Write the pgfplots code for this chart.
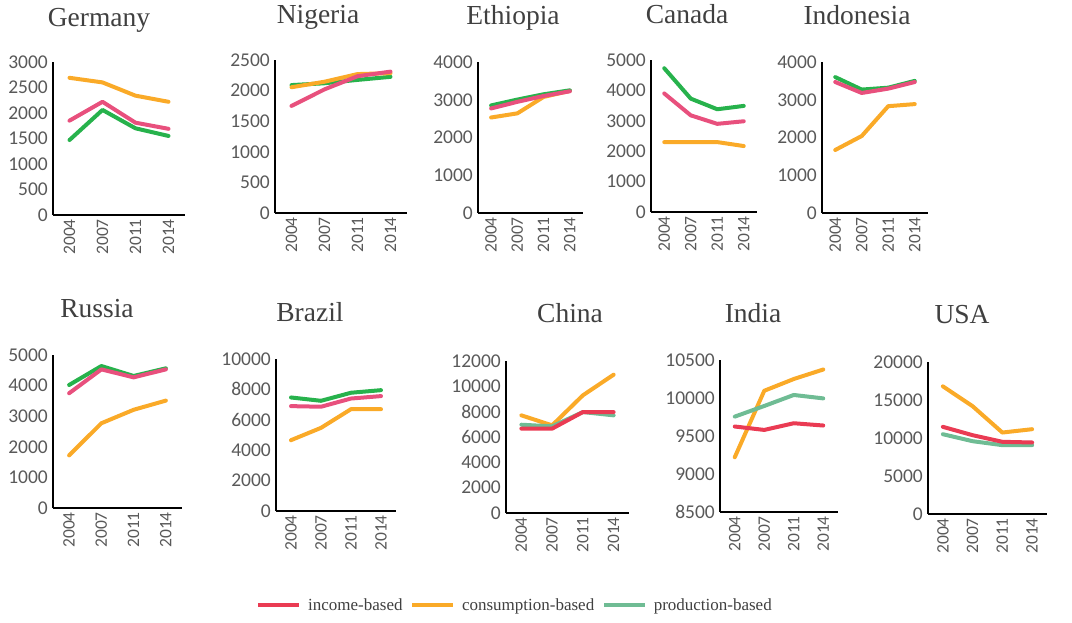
\documentclass[border=0pt]{standalone}
\usepackage{pgfplots}
\pgfplotsset{compat=1.18}
\usepackage{fontspec}
\setmainfont{Liberation Serif}
\newfontfamily\tickfont{Carlito}
\definecolor{pinkA}{HTML}{E8507D}
\definecolor{orangeA}{HTML}{FAAA28}
\definecolor{greenA}{HTML}{27B24C}
\definecolor{redB}{HTML}{EA3B53}
\definecolor{tealB}{HTML}{6FBC94}
\definecolor{tickgray}{HTML}{595959}
\definecolor{titlegray}{HTML}{404040}
\pgfplotsset{
  panel/.style={
    scale only axis, clip=false,
    axis x line*=bottom, axis y line*=left,
    every outer x axis line/.append style={-},
    every outer y axis line/.append style={-},
    axis line style={-, line width=1.8pt, black},
    xmin=-0.5, xmax=3.5,
    xtick={0,1,2,3}, xticklabels={2004,2007,2011,2014},
    major tick length=0pt, tick style={draw=none},
    scaled y ticks=false,
    /pgf/number format/assume math mode=true,
    /pgf/number format/1000 sep={},
    yticklabel style={font=\tickfont\fontsize{19.5}{20}\selectfont, text=tickgray, anchor=east, inner sep=0pt, xshift=-5pt},
    xticklabel style={font=\tickfont\fontsize{17.5}{18}\selectfont, text=tickgray, yshift=-4pt, rotate=90, anchor=east, inner sep=0pt},
    every axis plot/.append style={line width=4pt, line cap=round, line join=round},
  },
}
\begin{document}
\begin{tikzpicture}
\path (0pt,0pt) rectangle (1072pt,-622pt);
% ---------- Germany
\begin{axis}[panel, at={(53pt,-215pt)}, anchor=south west, width=132pt, height=153pt,
  ymin=0, ymax=3000, ytick={0,500,...,3000}]
\addplot[orangeA] coordinates {(0,2690) (1,2600) (2,2340) (3,2220)};
\addplot[greenA] coordinates {(0,1470) (1,2060) (2,1700) (3,1550)};
\addplot[pinkA] coordinates {(0,1850) (1,2220) (2,1810) (3,1690)};
\end{axis}
% ---------- Nigeria
\begin{axis}[panel, at={(275pt,-213pt)}, anchor=south west, width=132pt, height=153pt,
  ymin=0, ymax=2500, ytick={0,500,...,2500}]
\addplot[greenA] coordinates {(0,2090) (1,2120) (2,2175) (3,2225)};
\addplot[orangeA] coordinates {(0,2055) (1,2145) (2,2270) (3,2285)};
\addplot[pinkA] coordinates {(0,1750) (1,2020) (2,2235) (3,2310)};
\end{axis}
% ---------- Ethiopia
\begin{axis}[panel, at={(478pt,-213pt)}, anchor=south west, width=105pt, height=151pt,
  ymin=0, ymax=4000, ytick={0,1000,...,4000}]
\addplot[orangeA] coordinates {(0,2530) (1,2640) (2,3075) (3,3235)};
\addplot[greenA] coordinates {(0,2850) (1,3005) (2,3145) (3,3250)};
\addplot[pinkA] coordinates {(0,2770) (1,2945) (2,3100) (3,3225)};
\end{axis}
% ---------- Canada
\begin{axis}[panel, at={(651pt,-212pt)}, anchor=south west, width=106pt, height=152pt,
  ymin=0, ymax=5000, ytick={0,1000,...,5000}]
\addplot[orangeA] coordinates {(0,2300) (1,2300) (2,2300) (3,2170)};
\addplot[greenA] coordinates {(0,4730) (1,3730) (2,3380) (3,3490)};
\addplot[pinkA] coordinates {(0,3900) (1,3180) (2,2900) (3,2985)};
\end{axis}
% ---------- Indonesia
\begin{axis}[panel, at={(822pt,-213pt)}, anchor=south west, width=106pt, height=151pt,
  ymin=0, ymax=4000, ytick={0,1000,...,4000}]
\addplot[orangeA] coordinates {(0,1670) (1,2040) (2,2830) (3,2885)};
\addplot[greenA] coordinates {(0,3600) (1,3270) (2,3320) (3,3500)};
\addplot[pinkA] coordinates {(0,3470) (1,3180) (2,3295) (3,3470)};
\end{axis}
% ---------- Russia
\begin{axis}[panel, at={(53pt,-508pt)}, anchor=south west, width=129pt, height=153pt,
  ymin=0, ymax=5000, ytick={0,1000,...,5000}]
\addplot[orangeA] coordinates {(0,1720) (1,2770) (2,3210) (3,3510)};
\addplot[greenA] coordinates {(0,4020) (1,4640) (2,4315) (3,4565)};
\addplot[pinkA] coordinates {(0,3750) (1,4530) (2,4270) (3,4530)};
\end{axis}
% ---------- Brazil
\begin{axis}[panel, at={(276pt,-511pt)}, anchor=south west, width=120pt, height=152pt,
  ymin=0, ymax=10000, ytick={0,2000,...,10000}]
\addplot[orangeA] coordinates {(0,4660) (1,5470) (2,6700) (3,6700)};
\addplot[greenA] coordinates {(0,7470) (1,7250) (2,7780) (3,7950)};
\addplot[pinkA] coordinates {(0,6900) (1,6860) (2,7400) (3,7560)};
\end{axis}
% ---------- China
\begin{axis}[panel, at={(506pt,-513pt)}, anchor=south west, width=123pt, height=152pt,
  ymin=0, ymax=12000, ytick={0,2000,...,12000},
  legend columns=3,
  legend style={at={(0.075,-0.605)}, anchor=center, draw=none, fill=none,
    font=\fontsize{17}{18}\selectfont, text=titlegray,
    /tikz/every odd column/.append style={column sep=5pt},
    /tikz/every even column/.append style={column sep=6pt}},
  legend image code/.code={\draw[#1, line width=3.5pt, line cap=butt] (0pt,0pt) -- (41pt,0pt);}]
\addlegendimage{redB}\addlegendentry{income-based}
\addlegendimage{orangeA}\addlegendentry{consumption-based}
\addlegendimage{tealB}\addlegendentry{production-based}
\addplot[orangeA, forget plot] coordinates {(0,7710) (1,6920) (2,9290) (3,10920)};
\addplot[tealB, forget plot] coordinates {(0,6970) (1,6840) (2,7970) (3,7710)};
\addplot[redB, forget plot] coordinates {(0,6660) (1,6660) (2,7970) (3,7970)};
\end{axis}
% ---------- India
\begin{axis}[panel, at={(720pt,-512pt)}, anchor=south west, width=118pt, height=152pt,
  ymin=8500, ymax=10500, ytick={8500,9000,...,10500}]
\addplot[orangeA] coordinates {(0,9220) (1,10095) (2,10250) (3,10375)};
\addplot[tealB] coordinates {(0,9755) (1,9895) (2,10040) (3,9995)};
\addplot[redB] coordinates {(0,9625) (1,9580) (2,9668) (3,9638)};
\end{axis}
% ---------- USA
\begin{axis}[panel, at={(928pt,-514pt)}, anchor=south west, width=119pt, height=152pt,
  ymin=0, ymax=20000, ytick={0,5000,...,20000}]
\addplot[orangeA] coordinates {(0,16800) (1,14180) (2,10720) (3,11160)};
\addplot[tealB] coordinates {(0,10500) (1,9580) (2,9060) (3,9060)};
\addplot[redB] coordinates {(0,11470) (1,10370) (2,9500) (3,9410)};
\end{axis}
% ---------- titles
\begin{scope}[every node/.style={font=\fontsize{27.5}{28}\selectfont, text=titlegray, anchor=base, inner sep=0pt}]
\node at (99pt,-26pt) {Germany};
\node at (318pt,-23pt) {Nigeria};
\node at (513pt,-24pt) {Ethiopia};
\node at (687pt,-23pt) {Canada};
\node at (857pt,-24pt) {Indonesia};
\node at (97pt,-317pt) {Russia};
\node at (310pt,-321pt) {Brazil};
\node at (570pt,-322pt) {China};
\node at (753pt,-322pt) {India};
\node at (962pt,-323pt) {USA};
\end{scope}
\end{tikzpicture}
\end{document}
